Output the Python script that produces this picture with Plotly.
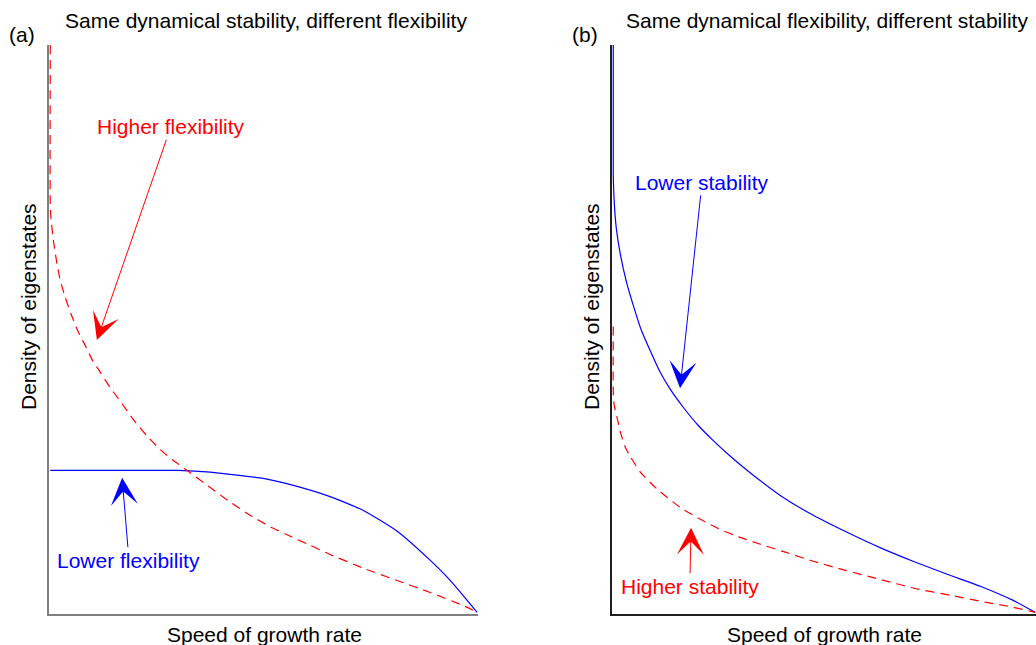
import plotly.graph_objects as go

# ---- data (normalised: speed of growth rate 0..1, density 0..1) ----
# Panel (a): same dynamical stability, different flexibility
a_high_x = [0.0, 0.0, 0.002, 0.007, 0.014, 0.023, 0.035, 0.049, 0.065, 0.082, 0.098,
            0.117, 0.140, 0.164, 0.194, 0.227, 0.257, 0.287, 0.320, 0.374, 0.421,
            0.467, 0.514, 0.561, 0.608, 0.654, 0.731, 0.811, 0.888, 0.965, 0.998]
a_high_y = [1.0, 0.715, 0.692, 0.657, 0.622, 0.586, 0.555, 0.525, 0.495, 0.470, 0.445,
            0.423, 0.396, 0.372, 0.340, 0.310, 0.287, 0.268, 0.250, 0.220, 0.194,
            0.171, 0.151, 0.134, 0.118, 0.102, 0.078, 0.056, 0.035, 0.012, 0.0]
a_low_x = [0.0, 0.299, 0.374, 0.421, 0.498, 0.577, 0.654, 0.731, 0.811, 0.888, 0.928,
           0.965, 0.998]
a_low_y = [0.250, 0.250, 0.247, 0.243, 0.236, 0.222, 0.204, 0.180, 0.143, 0.092, 0.062,
           0.030, 0.0]

# Panel (b): same dynamical flexibility, different stability
b_low_x = [0.0, 0.0, 0.002, 0.007, 0.017, 0.031, 0.047, 0.066, 0.088, 0.111, 0.135,
           0.166, 0.199, 0.236, 0.277, 0.317, 0.395, 0.473, 0.553, 0.631, 0.709,
           0.790, 0.868, 0.946, 0.998]
b_low_y = [1.0, 0.771, 0.727, 0.678, 0.630, 0.583, 0.542, 0.498, 0.460, 0.423, 0.393,
           0.361, 0.331, 0.303, 0.275, 0.250, 0.206, 0.171, 0.141, 0.114, 0.090,
           0.067, 0.046, 0.021, 0.0]
b_high_x = [0.0, 0.0, 0.002, 0.010, 0.017, 0.028, 0.040, 0.064, 0.104, 0.158, 0.206,
            0.253, 0.300, 0.348, 0.407, 0.473, 0.549, 0.631, 0.714, 0.797, 0.879,
            0.946, 0.998]
b_high_y = [0.504, 0.389, 0.366, 0.340, 0.317, 0.292, 0.275, 0.247, 0.217, 0.185, 0.164,
            0.146, 0.132, 0.120, 0.106, 0.090, 0.074, 0.058, 0.042, 0.030, 0.018,
            0.009, 0.0]

panel_titles = ["Same dynamical stability, different flexibility",
                "Same dynamical flexibility, different stability"]
panel_tags = ["(a)", "(b)"]
x_title = "Speed of growth rate"
y_title = "Density of eigenstates"

RED = "#ff0000"
BLUE = "#0000ff"
FONT = "Liberation Sans, Arial, sans-serif"
FS = 21

fig = go.Figure()
def add_line(x, y, color, dash, xa, ya):
    fig.add_trace(go.Scatter(
        x=x, y=y, mode="lines",
        line=dict(color=color, width=1.2, dash=dash, shape="spline", smoothing=0.5),
        xaxis=xa, yaxis=ya, showlegend=False, hoverinfo="skip"))

add_line(a_low_x, a_low_y, BLUE, "solid", "x", "y")
add_line(a_high_x, a_high_y, RED, "9px,6px", "x", "y")
add_line(b_low_x, b_low_y, BLUE, "solid", "x2", "y2")
add_line(b_high_x, b_high_y, RED, "9px,6px", "x2", "y2")

W, H = 1036, 645
ydom = [(H - 614) / H, (H - 45) / H]
axis_common = dict(showgrid=False, zeroline=False, showticklabels=False, ticks="",
                   showline=True, linewidth=1.5, mirror=False, layer="below traces",
                   range=[-0.003, 1.0], fixedrange=True)

fig.update_layout(
    width=W, height=H,
    margin=dict(l=0, r=0, t=0, b=0),
    paper_bgcolor="white", plot_bgcolor="white",
    font=dict(family=FONT, size=FS, color="black"),
    xaxis=dict(domain=[49 / W, 478 / W], linecolor="#808080", anchor="y", **axis_common),
    yaxis=dict(domain=ydom, linecolor="#808080", anchor="x", **axis_common),
    xaxis2=dict(domain=[612 / W, 1.0], linecolor="#202020", anchor="y2", **axis_common),
    yaxis2=dict(domain=ydom, linecolor="#202020", anchor="x2", **axis_common),
)

ann = []
for cx, title, tagx, tag, xtx, ytx in [
    (265.5, panel_titles[0], 22, panel_tags[0], 264, 28),
    (827, panel_titles[1], 585, panel_tags[1], 824.5, 591),
]:
    ann.append(dict(text=title, x=cx / W, y=(H - 20) / H, xref="paper", yref="paper",
                    showarrow=False, xanchor="center", yanchor="middle"))
    ann.append(dict(text=tag, x=tagx / W, y=(H - 35) / H, xref="paper", yref="paper",
                    showarrow=False, xanchor="center", yanchor="middle"))
    ann.append(dict(text=x_title, x=xtx / W, y=(H - 634) / H, xref="paper", yref="paper",
                    showarrow=False, xanchor="center", yanchor="middle"))
    ann.append(dict(text=y_title, x=ytx / W, y=(H - 307) / H, xref="paper", yref="paper",
                    showarrow=False, xanchor="center", yanchor="middle", textangle=-90))

arrow_common = dict(showarrow=True, arrowhead=3, arrowsize=4.5, arrowwidth=1,
                    xanchor="center", yanchor="middle", standoff=0)
ann.append(dict(text="Higher flexibility", font=dict(color=RED), arrowcolor=RED,
                x=0.109, y=0.480, ax=0.282, ay=0.856, xref="x", yref="y",
                axref="x", ayref="y", **arrow_common))
ann.append(dict(text="Lower flexibility", font=dict(color=BLUE), arrowcolor=BLUE,
                x=0.168, y=0.237, ax=0.184, ay=0.092, xref="x", yref="y",
                axref="x", ayref="y", **arrow_common))
ann.append(dict(text="Lower stability", font=dict(color=BLUE), arrowcolor=BLUE,
                x=0.158, y=0.395, ax=0.210, ay=0.758, xref="x2", yref="y2",
                axref="x2", ayref="y2", **arrow_common))
ann.append(dict(text="Higher stability", font=dict(color=RED), arrowcolor=RED,
                x=0.184, y=0.149, ax=0.181, ay=0.046, xref="x2", yref="y2",
                axref="x2", ayref="y2", **arrow_common))

fig.update_layout(annotations=ann)
fig.write_html("out.html", config={"displayModeBar": False},
               post_script="document.body.style.margin='0px';document.body.style.overflow='hidden';")
